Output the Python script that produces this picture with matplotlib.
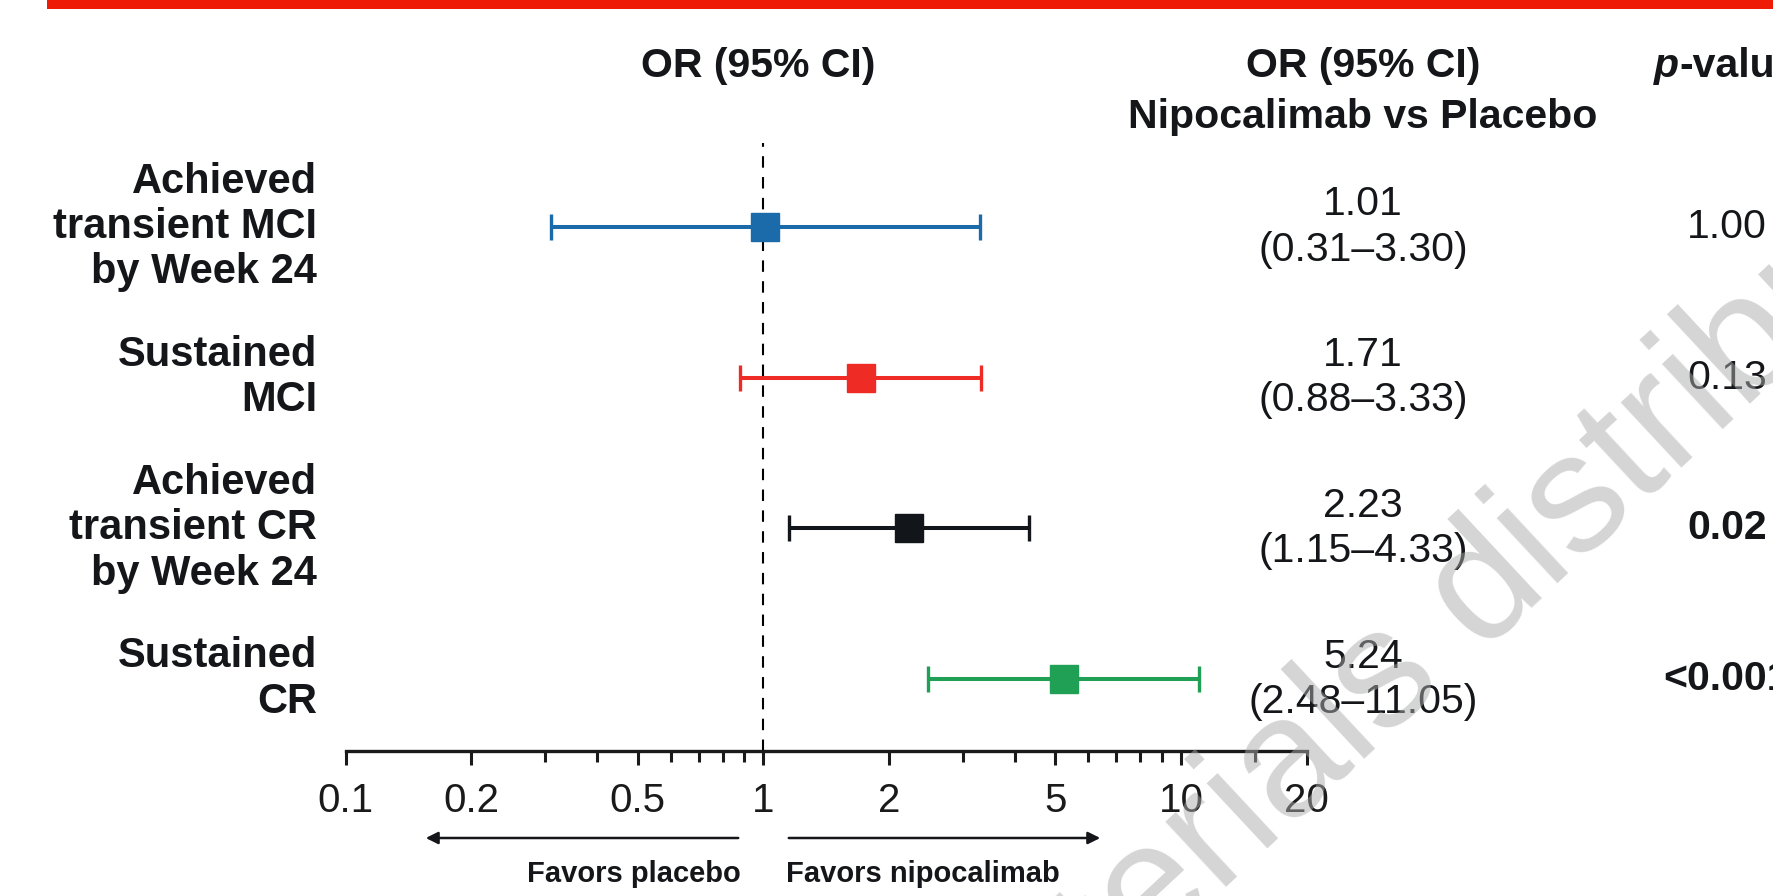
import matplotlib
matplotlib.use("Agg")
import matplotlib.pyplot as plt
import matplotlib.transforms as mtransforms
from matplotlib.patches import Rectangle, FancyArrowPatch
from matplotlib.ticker import FixedLocator, NullFormatter

plt.rcParams["font.family"] = ["Liberation Sans", "DejaVu Sans"]

# data
outcomes = [
    "Achieved\ntransient MCI\nby Week 24",
    "Sustained\nMCI",
    "Achieved\ntransient CR\nby Week 24",
    "Sustained\nCR",
]
odds_ratio = [1.01, 1.71, 2.23, 5.24]
ci_low = [0.31, 0.88, 1.15, 2.48]
ci_high = [3.30, 3.33, 4.33, 11.05]
p_values = ["1.00", "0.13", "0.02", "<0.001"]
colors = ["#1b6aaa", "#ee2b24", "#121519", "#1fa055"]

major_ticks = [0.1, 0.2, 0.5, 1, 2, 5, 10, 20]
major_labels = ["0.1", "0.2", "0.5", "1", "2", "5", "10", "20"]
minor_ticks = [0.3, 0.4, 0.6, 0.7, 0.8, 0.9, 3, 4, 6, 7, 8, 9, 15]

W, H = 1774, 896
INK = "#141619"
fig = plt.figure(figsize=(W / 100, H / 100), dpi=100)


def fx(px):
    return px / W


def fy(py):
    return 1 - py / H


# plot area: x from 0.1 to 20, axis line at y=751 px
ax = fig.add_axes([fx(345.6), fy(751), fx(1306.7) - fx(345.6), (751 - 143) / H])
ax.set_xscale("log")
ax.set_xlim(0.1, 20)
ax.set_ylim(3.477, -0.557)

for i in range(len(outcomes)):
    ax.errorbar(odds_ratio[i], i,
                xerr=[[odds_ratio[i] - ci_low[i]], [ci_high[i] - odds_ratio[i]]],
                fmt="s", color=colors[i], ms=20, elinewidth=2.9, capsize=9.7,
                capthick=2.4, zorder=3)

ax.axvline(1, color="black", lw=1.5, ls=(0, (5.5, 4.5)), zorder=2)

for s in ["top", "right", "left"]:
    ax.spines[s].set_visible(False)
ax.spines["bottom"].set_linewidth(2.4)
ax.spines["bottom"].set_color("#1a1a1a")
ax.set_yticks([])
ax.xaxis.set_major_locator(FixedLocator(major_ticks))
ax.set_xticklabels(major_labels)
ax.xaxis.set_minor_locator(FixedLocator(minor_ticks))
ax.xaxis.set_minor_formatter(NullFormatter())
ax.tick_params(axis="x", which="major", length=10, width=2.2, pad=12,
               labelsize=29, colors="#1a1a1a")
ax.tick_params(axis="x", which="minor", length=8, width=2.2, colors="#1a1a1a")

# rows text
tr = mtransforms.blended_transform_factory(fig.transFigure, ax.transData)
for i, lab in enumerate(outcomes):
    fig.text(fx(317), i, lab, transform=tr, ha="right", va="center",
             fontsize=30, fontweight="bold", linespacing=1.17, color=INK)
    fig.text(fx(1363), i, f"{odds_ratio[i]:.2f}\n({ci_low[i]:.2f}\u2013{ci_high[i]:.2f})",
             transform=tr, ha="center", va="center", fontsize=29.5,
             linespacing=1.24, color=INK)
    sig = float(p_values[i].lstrip("<")) < 0.05
    fig.text(fx(1727), i, p_values[i], transform=tr, ha="center", va="center",
             fontsize=29.5, fontweight="bold" if sig else "normal", color=INK)

# headers
fig.text(fx(758), fy(66), "OR (95% CI)", ha="center", va="center",
         fontsize=29.5, fontweight="bold", color=INK)
fig.text(fx(1363), fy(66), "OR (95% CI)", ha="center", va="center",
         fontsize=29.5, fontweight="bold", color=INK)
fig.text(fx(1363), fy(117), "Nipocalimab vs Placebo", ha="center", va="center",
         fontsize=29.5, fontweight="bold", color=INK)
tp = fig.text(fx(1654), fy(66), "p", ha="left", va="center", fontsize=29.5,
              fontweight="bold", style="italic", color=INK)
fig.canvas.draw()
bb = tp.get_window_extent()
fig.text(bb.x1 / W, fy(66), "-value", ha="left", va="center", fontsize=29.5,
         fontweight="bold", color=INK)

# favours arrows
for x0, x1 in [(741, 423), (786, 1103)]:
    fig.add_artist(FancyArrowPatch((fx(x0), fy(838)), (fx(x1), fy(838)),
                                   transform=fig.transFigure, arrowstyle="-|>",
                                   mutation_scale=18, lw=1.8, color=INK))
fig.text(fx(741), fy(874), "Favors placebo", ha="right", va="center",
         fontsize=21, fontweight="bold", color=INK)
fig.text(fx(786), fy(874), "Favors nipocalimab", ha="left", va="center",
         fontsize=21, fontweight="bold", color=INK)

# top red rule
fig.add_artist(Rectangle((fx(47), fy(9)), 1 - fx(47), 9 / H, transform=fig.transFigure,
                         color="#ee1c06", lw=0))

# watermark
wm = dict(fontsize=122, rotation=43, rotation_mode="anchor", va="baseline",
          color="#a9abaa", alpha=0.5, zorder=10)
fig.text(fx(1480), fy(650), "materials ", ha="right", **wm)
fig.text(fx(1480), fy(650), "distribution", ha="left", **wm)

fig.savefig("out.png", dpi=100)
